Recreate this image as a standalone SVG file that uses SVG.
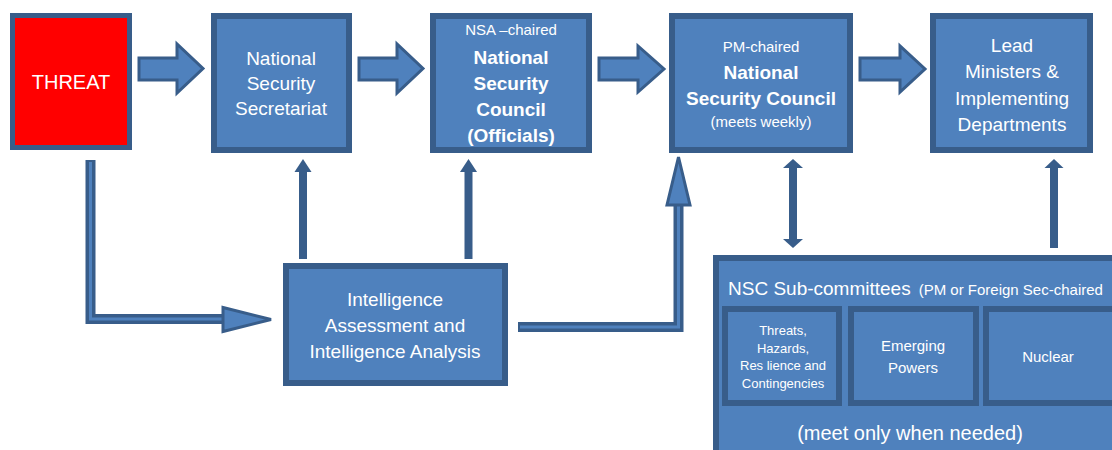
<svg xmlns="http://www.w3.org/2000/svg" width="1112" height="450" viewBox="0 0 1112 450">
<style>
.box{fill:#4F81BD;stroke:#385D8A;stroke-width:6}
.threat{fill:#FF0000;stroke:#385D8A;stroke-width:5}
.blk{fill:#4F81BD;stroke:#385D8A;stroke-width:3;stroke-linejoin:miter}
.t{font-family:"Liberation Sans",Arial,sans-serif;fill:#FFFFFF;text-anchor:middle}
.b{font-weight:bold}
.thin{stroke:#385D8A;stroke-width:8;fill:none}
.head{fill:#385D8A}
.lineO{stroke:#385D8A;stroke-width:10;fill:none;stroke-linejoin:miter}
.lineI{stroke:#4F81BD;stroke-width:3;fill:none;stroke-linejoin:miter}
</style>
<rect width="1112" height="450" fill="#FFFFFF"/>
<g id="connectors">
  <polygon class="blk" points="139,58 177,58 177,44 203,68.5 177,93 177,80 139,80"/>
  <polygon class="blk" points="359,58 397,58 397,44 423,68.5 397,93 397,80 359,80"/>
  <polygon class="blk" points="599,58 638,58 638,46 664,69 638,92 638,80 599,80"/>
  <polygon class="blk" points="860,58 900,58 900,46 925,69 900,92 900,80 860,80"/>
  <path class="lineO" d="M90.5,160 V319 H224"/>
  <path class="lineI" d="M90.5,162 V319 H224"/>
  <polygon class="blk" points="223,307.5 223,331.5 271,319.5"/>
  <path class="lineO" d="M518,327 H678.5 V204"/>
  <path class="lineI" d="M520,327 H678.5 V204"/>
  <polygon class="blk" points="667,205 690,205 678.5,157"/>
  <line class="thin" x1="303" y1="259" x2="303" y2="170"/>
  <polygon class="head" points="294.5,172 311.5,172 303,159"/>
  <line class="thin" x1="468.5" y1="259" x2="468.5" y2="170"/>
  <polygon class="head" points="460,172 477,172 468.5,159"/>
  <line class="thin" x1="793" y1="167" x2="793" y2="240"/>
  <polygon class="head" points="783,168 803,168 793,159"/>
  <polygon class="head" points="783,239 803,239 793,248"/>
  <line class="thin" x1="1054" y1="248" x2="1054" y2="166"/>
  <polygon class="head" points="1044.5,168 1063.5,168 1054,159"/>
</g>
<g id="threat">
  <rect class="threat" x="12.5" y="15.5" width="117" height="132"/>
  <text class="t" x="71" y="89" font-size="20">THREAT</text>
</g>
<g id="nss">
  <rect class="box" x="214" y="16" width="135" height="134"/>
  <text class="t" font-size="19"><tspan x="281" y="65">National</tspan><tspan x="281" y="90">Security</tspan><tspan x="281" y="115">Secretariat</tspan></text>
</g>
<g id="nsc-officials">
  <rect class="box" x="433" y="16" width="156" height="134"/>
  <text class="t" x="511" y="35" font-size="15">NSA –chaired</text>
  <text class="t b" font-size="19"><tspan x="511" y="64">National</tspan><tspan x="511" y="90">Security</tspan><tspan x="511" y="116">Council</tspan><tspan x="511" y="142">(Officials)</tspan></text>
</g>
<g id="nsc-pm">
  <rect class="box" x="672" y="16" width="178" height="134"/>
  <text class="t" x="761" y="52" font-size="15">PM-chaired</text>
  <text class="t b" font-size="19"><tspan x="761" y="79">National</tspan><tspan x="761" y="105">Security Council</tspan></text>
  <text class="t" x="761" y="127" font-size="15">(meets weekly)</text>
</g>
<g id="lead">
  <rect class="box" x="933" y="16" width="157" height="134"/>
  <text class="t" font-size="19"><tspan x="1012" y="52">Lead</tspan><tspan x="1012" y="78">Ministers &amp;</tspan><tspan x="1012" y="105">Implementing</tspan><tspan x="1012" y="131">Departments</tspan></text>
</g>
<g id="intel">
  <rect class="box" x="286" y="266" width="219" height="117"/>
  <text class="t" font-size="19"><tspan x="395" y="306">Intelligence</tspan><tspan x="395" y="332">Assessment and</tspan><tspan x="395" y="358">Intelligence Analysis</tspan></text>
</g>
<g id="subcommittees">
  <rect class="box" x="716" y="258" width="420" height="220"/>
  <text x="728" y="295" font-family="&quot;Liberation Sans&quot;,Arial,sans-serif" fill="#FFFFFF"><tspan font-size="19">NSC Sub-committees</tspan><tspan font-size="15" dx="8">(PM or Foreign Sec-chaired</tspan></text>
  <text class="t" x="910" y="440" font-size="20">(meet only when needed)</text>
</g>
<g id="sub-threats">
  <rect class="box" x="725" y="309" width="114" height="94"/>
  <text class="t" font-size="13"><tspan x="783" y="335">Threats,</tspan><tspan x="783" y="352.5">Hazards,</tspan><tspan x="783" y="370">Res lience and</tspan><tspan x="783" y="387.5">Contingencies</tspan></text>
</g>
<g id="sub-emerging">
  <rect class="box" x="851" y="309" width="125" height="94"/>
  <text class="t" font-size="15"><tspan x="913" y="351">Emerging</tspan><tspan x="913" y="373">Powers</tspan></text>
</g>
<g id="sub-nuclear">
  <rect class="box" x="986" y="309" width="140" height="94"/>
  <text class="t" x="1048" y="362" font-size="15">Nuclear</text>
</g>
</svg>
